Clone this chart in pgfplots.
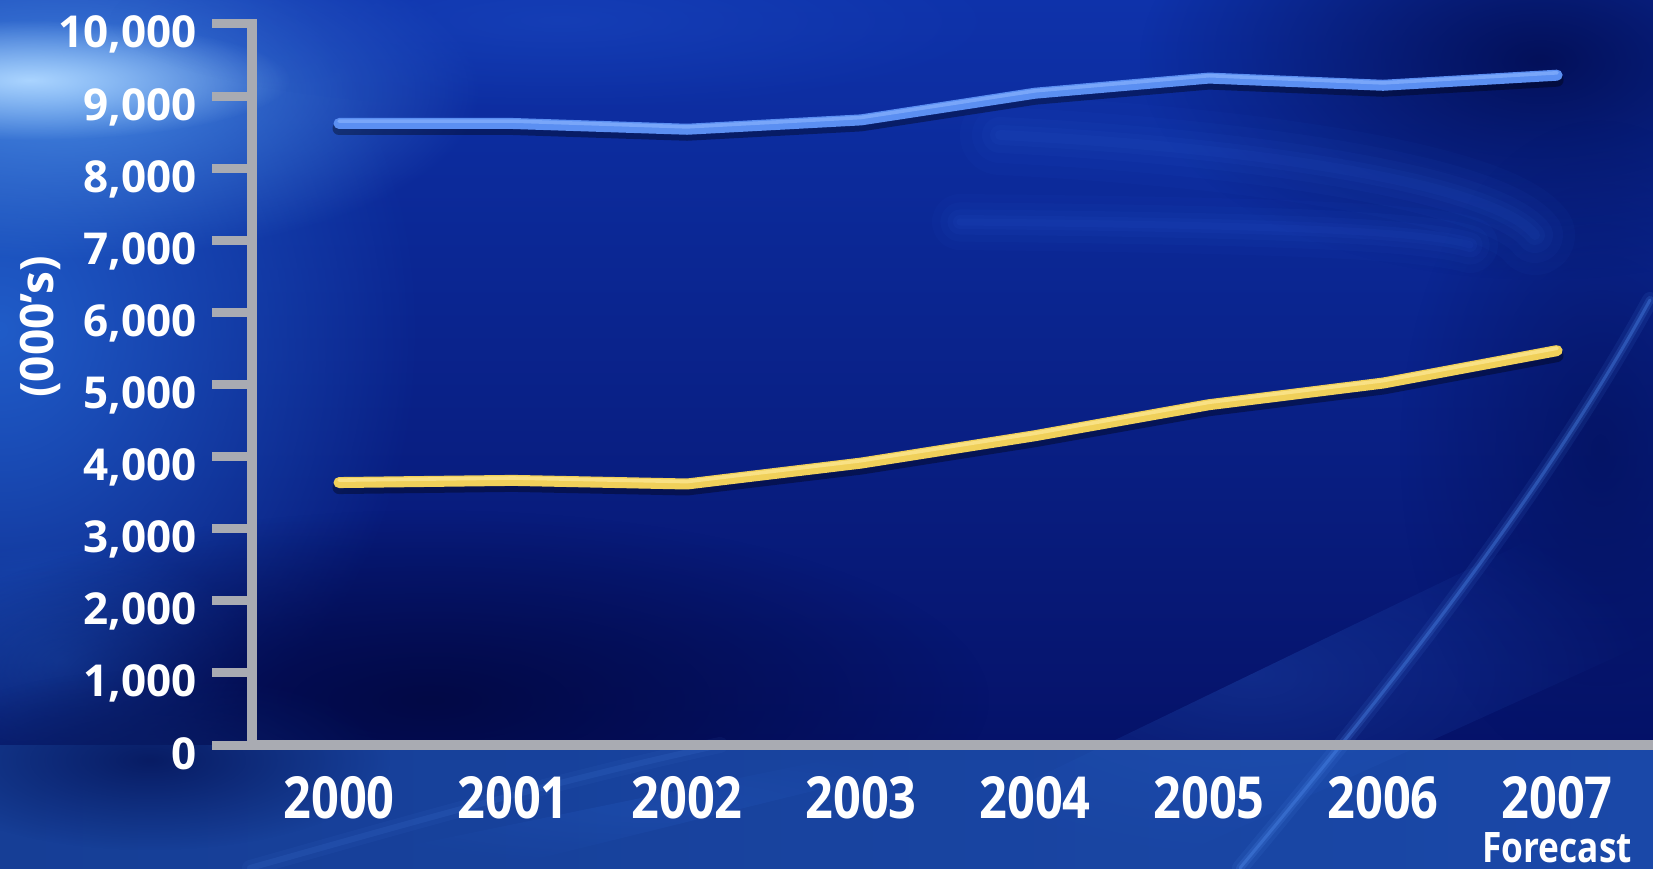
\documentclass[border=0pt]{standalone}
\usepackage{pgfplots}
\pgfplotsset{compat=1.18}
\usepackage{fontspec}
\setmainfont{Open Sans}
\newfontfamily\yearfont[FakeStretch=0.84]{Open Sans}
\usetikzlibrary{fadings}
\tikzfading[name=radfade, inner color=transparent!0, outer color=transparent!100]
\definecolor{bgbase}{RGB}{10,40,152}
\definecolor{gtop}{RGB}{14,50,170}
\definecolor{gmid}{RGB}{10,38,148}
\definecolor{gbot}{RGB}{5,18,105}
\definecolor{leftstrip}{RGB}{32,92,200}
\definecolor{glowA}{RGB}{70,135,225}
\definecolor{glowB}{RGB}{170,212,255}
\definecolor{topmid}{RGB}{25,70,190}
\definecolor{darkTR}{RGB}{3,16,90}
\definecolor{darkBL}{RGB}{2,9,70}
\definecolor{swoosh}{RGB}{45,95,215}
\definecolor{bandL}{RGB}{22,62,150}
\definecolor{bandR}{RGB}{26,72,168}
\definecolor{bandDark}{RGB}{8,28,100}
\definecolor{streakA}{RGB}{40,95,200}
\definecolor{streakB}{RGB}{80,140,240}
\definecolor{axisgray}{RGB}{169,171,178}
\definecolor{lineblue}{RGB}{91,143,242}
\definecolor{lineblueh}{RGB}{141,182,255}
\definecolor{lineyellow}{RGB}{240,208,90}
\definecolor{lineyellowh}{RGB}{255,237,160}
\begin{document}
\begin{tikzpicture}
\useasboundingbox (0,0) rectangle (826.5pt,434pt);
\begin{scope}[x=0.5pt,y=-0.5pt,yshift=434pt]
  \fill[bgbase] (0,0) rectangle (1653,868);
  \shade[top color=gtop, middle color=gmid, bottom color=gbot] (0,0) rectangle (1653,745);
  % left lighter region
  \fill[leftstrip, path fading=radfade] (0,330) ellipse (420 and 480);
  \fill[leftstrip, opacity=0.6, path fading=radfade] (60,660) ellipse (200 and 120);
  % top-left glows
  \fill[glowA, path fading=radfade] (60,90) ellipse (420 and 170);
  \fill[glowB, path fading=radfade] (30,80) ellipse (260 and 60);
  % top centre lighter
  \fill[topmid, opacity=0.6, path fading=radfade] (560,20) ellipse (450 and 90);
  % top-right dark
  \fill[darkTR, path fading=radfade] (1540,60) ellipse (400 and 220);
  \fill[darkTR, opacity=0.7, path fading=radfade] (1600,450) ellipse (200 and 330);
  % bottom-left dark
  \fill[darkBL, path fading=radfade] (430,700) ellipse (560 and 190);
  % right swooshes (soft)
  \foreach \w/\o in {40/0.05,28/0.06,18/0.07,10/0.08,5/0.08}{
    \draw[swoosh, opacity=\o, line width=\w pt, line cap=round]
      (1000,135) .. controls (1300,150) and (1500,190) .. (1535,235);
    \draw[swoosh, opacity=\o, line width=0.7*\w pt, line cap=round]
      (960,222) .. controls (1250,225) and (1420,230) .. (1470,245);
  }
  % bottom band
  \shade[left color=bandL, right color=bandR] (0,745) rectangle (1653,868);
  \fill[bandDark, path fading=radfade] (150,760) ellipse (240 and 90);
  % diagonal light wedges
  \fill[streakA, opacity=0.30, path fading=radfade]
     (850,868) -- (1653,480) -- (1653,640) -- (1150,868) -- cycle;
  \fill[streakA, opacity=0.25, path fading=radfade]
     (300,868) -- (900,745) -- (1000,745) -- (500,868) -- cycle;
  % thin light streaks
  \foreach \w/\o in {8/0.10,4/0.18,1.5/0.35}{
    \draw[streakB, opacity=\o, line width=\w pt, line cap=round]
      (1240,868) .. controls (1380,700) and (1540,500) .. (1650,300);
  }
  \foreach \w/\o in {8/0.06,3/0.12}{
    \draw[streakB, opacity=\o, line width=\w pt, line cap=round]
      (250,868) .. controls (420,820) and (560,780) .. (720,745);
  }
  \node[rotate=90, text=white, font=\bfseries\fontsize{23}{26}\selectfont, inner sep=0pt] at (40,327) {(000’s)};
\end{scope}
\begin{axis}[
  at={(126pt,61.5pt)}, anchor=south west,
  scale only axis, width=699pt, height=360.5pt,
  xmin=-0.5, xmax=7.534, ymin=0, ymax=10000,
  clip=false,
  axis x line=bottom, axis y line=left,
  axis line style={draw=axisgray, line width=5pt, -, line cap=rect},
  xtick={0,1,2,3,4,5,6,7},
  xticklabels={2000,2001,2002,2003,2004,2005,2006,2007},
  ytick={0,1000,2000,3000,4000,5000,6000,7000,8000,9000,10000},
  scaled y ticks=false,
  tick align=outside, major tick length=20pt,
  ytick style={draw=axisgray, line width=4.5pt},
  xtick style={draw=none},
  /pgf/number format/.cd, 1000 sep={,}, assume math mode=true, /pgfplots/.cd,
  yticklabel style={text=white, font=\bfseries\fontsize{22}{24}\selectfont, anchor=base east, inner sep=0pt, xshift=-7.5pt, yshift=-12pt},
  xticklabel style={text=white, font=\yearfont\bfseries\fontsize{29}{32}\selectfont, anchor=north, inner sep=0pt, yshift=4.5pt},
]
\addplot[draw=black, opacity=0.35, line width=6.5pt, line cap=round, line join=round, yshift=-2.5pt, forget plot]
  coordinates {(0,8620)(1,8620)(2,8540)(3,8670)(4,9040)(5,9250)(6,9150)(7,9290)};
\addplot[draw=black, opacity=0.35, line width=6.5pt, line cap=round, line join=round, yshift=-2.5pt, forget plot]
  coordinates {(0,3640)(1,3670)(2,3620)(3,3910)(4,4290)(5,4720)(6,5020)(7,5470)};
\addplot[draw=lineblue, line width=5.5pt, line cap=round, line join=round]
  coordinates {(0,8620)(1,8620)(2,8540)(3,8670)(4,9040)(5,9250)(6,9150)(7,9290)};
\addplot[draw=lineblueh, opacity=0.6, line width=1.8pt, line cap=round, line join=round, yshift=1.2pt, forget plot]
  coordinates {(0,8620)(1,8620)(2,8540)(3,8670)(4,9040)(5,9250)(6,9150)(7,9290)};
\addplot[draw=lineyellow, line width=5.5pt, line cap=round, line join=round]
  coordinates {(0,3640)(1,3670)(2,3620)(3,3910)(4,4290)(5,4720)(6,5020)(7,5470)};
\addplot[draw=lineyellowh, opacity=0.6, line width=1.8pt, line cap=round, line join=round, yshift=1.2pt, forget plot]
  coordinates {(0,3640)(1,3670)(2,3620)(3,3910)(4,4290)(5,4720)(6,5020)(7,5470)};
\node[anchor=base, text=white, inner sep=0pt, font=\yearfont\bfseries\fontsize{21}{23}\selectfont, yshift=-58.7pt] at (axis cs:7,0) {Forecast};
\end{axis}
\end{tikzpicture}
\end{document}
